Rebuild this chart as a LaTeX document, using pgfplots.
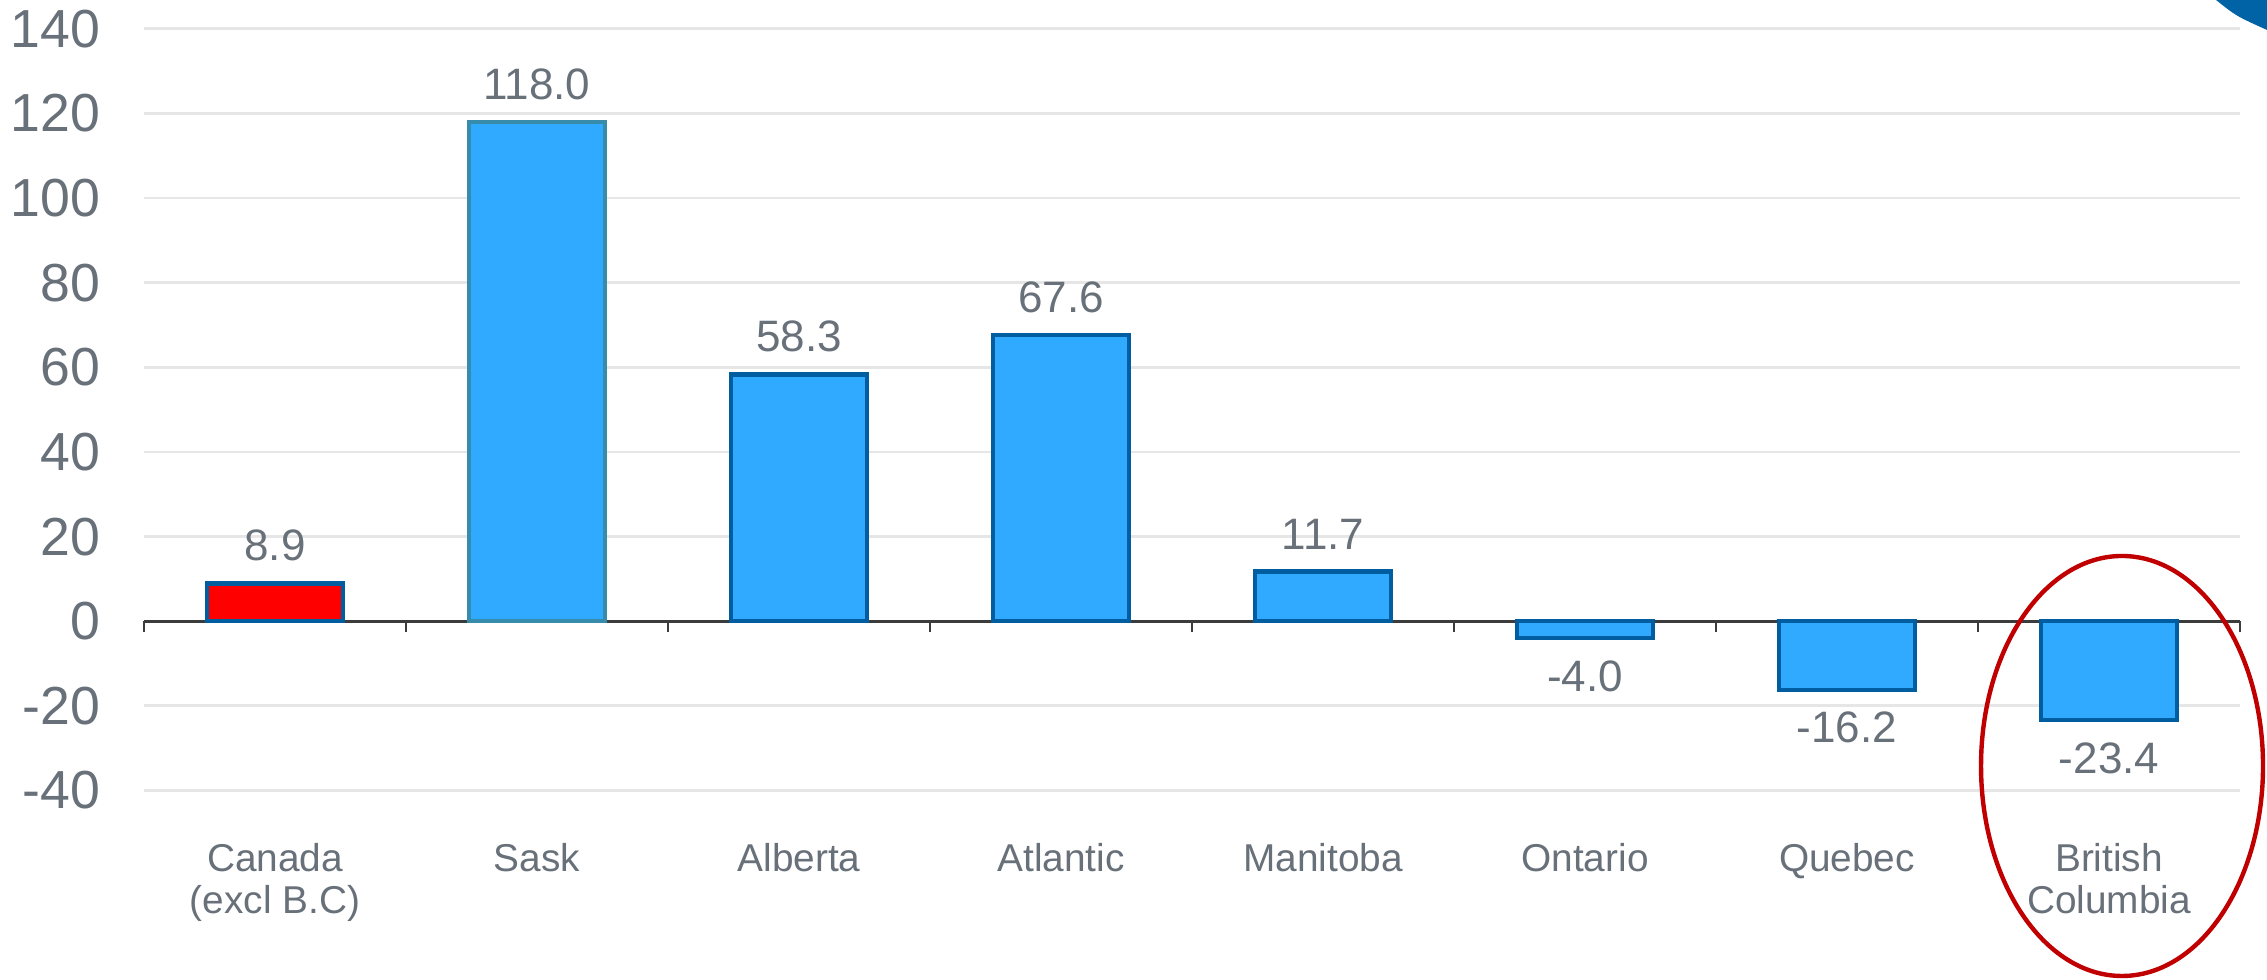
\documentclass[border=0pt]{standalone}
\usepackage{fontspec}
\setmainfont{Liberation Sans}
\usepackage{pgfplots}
\pgfplotsset{compat=1.18}
\definecolor{barblue}{RGB}{47,170,255}
\definecolor{bardark}{RGB}{0,94,160}
\definecolor{saskedge}{RGB}{54,140,170}
\definecolor{textgray}{RGB}{104,112,121}
\definecolor{gridgray}{RGB}{230,230,230}
\definecolor{axisdark}{RGB}{60,60,60}
\definecolor{circlered}{RGB}{192,0,0}
\definecolor{logoblue}{RGB}{0,99,166}
\begin{document}
\begin{tikzpicture}
\useasboundingbox (0,0) rectangle (566.75pt,245pt);
% corner of the logo, top right
\fill[logoblue] (554pt,245pt) .. controls (559pt,241pt) .. (566.75pt,237.5pt) -- (566.75pt,245pt) -- cycle;
\begin{axis}[
    at={(36pt,47.375pt)}, anchor=south west,
    scale only axis, width=524pt, height=190.45pt,
    ymin=-40, ymax=140, ytick={-40,-20,...,140},
    xmin=-0.5, xmax=7.5,
    xtick={0,...,7},
    xticklabels={{Canada\\(excl B.C)},Sask,Alberta,Atlantic,Manitoba,Ontario,Quebec,{British\\Columbia}},
    minor xtick={-0.5,0.5,...,7.5},
    axis x line*=middle, axis y line*=left,
    y axis line style={draw=none},
    x axis line style={draw=axisdark, line width=0.7pt},
    ytick style={draw=none},
    xtick style={draw=axisdark, line width=0.7pt},
    tick align=outside,
    major tick length=0pt, minor tick length=2.75pt,
    ymajorgrids, grid style={draw=gridgray, line width=0.7pt},
    /pgf/number format/assume math mode=true,
    yticklabel style={font=\fontsize{13.4}{15}\selectfont, text=textgray, anchor=east, xshift=-7.5pt},
    xticklabel style={font=\fontsize{9.7}{10.6}\selectfont, text=textgray, align=center, anchor=north, yshift=-52pt},
    ybar, bar width=34pt,
    nodes near coords,
    nodes near coords style={/pgf/number format/fixed, /pgf/number format/fixed zerofill,
        /pgf/number format/precision=1, /pgf/number format/assume math mode=true,
        text=textgray, font=\fontsize{11}{12.5}\selectfont, inner sep=5pt},
]
\addplot[fill=red, draw=bardark, line width=1.1pt, bar shift=0pt] coordinates {(0,8.9)};
\addplot[fill=barblue, draw=saskedge, line width=1.1pt, bar shift=0pt] coordinates {(1,118.0)};
\addplot[fill=barblue, draw=bardark, line width=1.1pt, bar shift=0pt] coordinates {
    (2,58.3) (3,67.6) (4,11.7) (5,-4.0) (6,-16.2) (7,-23.4)};
\end{axis}
\draw[circlered, line width=1.1pt] (530.5pt,53.5pt) ellipse [x radius=35.25pt, y radius=52.5pt];
\end{tikzpicture}
\end{document}
